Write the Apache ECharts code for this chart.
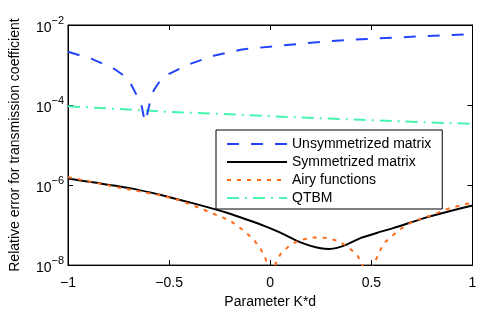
<!DOCTYPE html>
<html><head><meta charset="utf-8">
<script src="https://cdn.jsdelivr.net/npm/echarts@6/dist/echarts.min.js"></script>
<style>html,body{margin:0;padding:0;background:#fff}#c{width:485px;height:314px}</style>
</head><body><div id="c"></div>
<script>
var seriesNames = ['Unsymmetrized matrix','Symmetrized matrix','Airy functions','QTBM'];
var unsymX = [-1,-0.88,-0.77,-0.72,-0.685,-0.66,-0.64,-0.62,-0.61,-0.596,-0.576,-0.547,-0.5,-0.4,-0.28,-0.14,0.02,0.27,0.51,0.76,1.0];
var unsymY = [2.14e-3,1.41e-3,7.94e-4,5.25e-4,3.09e-4,1.74e-4,1.20e-4,3.8e-5,5.37e-5,1.12e-4,2.34e-4,3.89e-4,6.03e-4,1.05e-3,1.70e-3,2.45e-3,2.95e-3,3.89e-3,4.57e-3,5.25e-3,5.89e-3];
var symX = [-1,-0.85,-0.7,-0.54,-0.37,-0.21,-0.095,-0.03,0.05,0.135,0.2,0.25,0.29,0.33,0.38,0.448,0.53,0.612,0.777,0.89,1];
var symY = [1.45e-6,1.12e-6,8.51e-7,5.62e-7,3.39e-7,2.00e-7,1.26e-7,9.55e-8,6.46e-8,3.98e-8,3.02e-8,2.63e-8,2.54e-8,2.69e-8,3.31e-8,4.79e-8,6.46e-8,8.51e-8,1.58e-7,2.24e-7,3.09e-7];
var airyX = [-1,-0.75,-0.54,-0.45,-0.37,-0.23,-0.19,-0.13,-0.08,-0.047,-0.022,0.0,0.025,0.05,0.10,0.15,0.218,0.276,0.333,0.38,0.43,0.455,0.475,0.513,0.537,0.563,0.612,0.66,0.71,0.77,0.83,0.88,0.94,1];
var airyY = [1.58e-6,8.71e-7,5.50e-7,4.17e-7,2.95e-7,1.51e-7,1.20e-7,7.24e-8,4.17e-8,2.51e-8,1.41e-8,3e-9,1.05e-8,1.86e-8,3.24e-8,4.27e-8,4.90e-8,4.79e-8,4.07e-8,2.95e-8,1.78e-8,1.05e-8,3e-9,1.05e-8,2.04e-8,3.55e-8,5.89e-8,9.12e-8,1.26e-7,1.58e-7,2.04e-7,2.57e-7,3.09e-7,3.72e-7];
var qtbmX = [-1,-0.75,-0.5,-0.25,0,0.25,0.5,0.75,1];
var qtbmY = [9.33e-5,7.94e-5,6.76e-5,6.03e-5,5.25e-5,4.68e-5,4.17e-5,3.72e-5,3.39e-5];

function pairs(xs, ys){ return xs.map(function(x,i){ return [x, ys[i]]; }); }
var FONT = 'Liberation Sans, Arial, sans-serif';
var chart = echarts.init(document.getElementById('c'), null, {renderer:'canvas'});
var tickStyle = {inside:true, length:5, lineStyle:{color:'#000', width:1}};
var lineAx = {show:true, onZero:false, lineStyle:{color:'#000', width:1}};
chart.setOption({
  animation:false,
  backgroundColor:'#fff',
  grid:{left:66, top:25, right:12.5, bottom:42.5, show:true, borderColor:'#000', borderWidth:1},
  legend:{
    orient:'vertical', left:216, top:130,
    padding:[7,11,4,10], itemGap:4, itemWidth:60, itemHeight:14,
    borderColor:'#000', borderWidth:1, backgroundColor:'#fff',
    itemStyle:{opacity:0},
    textStyle:{fontFamily:FONT, fontSize:14, color:'#000'},
    data: seriesNames
  },
  xAxis:[{
    type:'value', min:-1, max:1, interval:0.5, position:'bottom',
    axisLine:lineAx, axisTick:tickStyle, splitLine:{show:false},
    axisLabel:{color:'#000', fontFamily:FONT, fontSize:14, margin:11,
      formatter:function(v){ return String(v).replace('-', '\u2212'); }},
    name:'Parameter K*d', nameLocation:'middle', nameGap:26,
    nameTextStyle:{fontFamily:FONT, fontSize:14, color:'#000'}
  },{
    type:'value', min:-1, max:1, interval:0.5, position:'top',
    axisLine:lineAx, axisTick:tickStyle, axisLabel:{show:false}, splitLine:{show:false}
  }],
  yAxis:[{
    type:'log', min:1e-8, max:1e-2, interval:2, logBase:10,
    axisLine:lineAx, axisTick:tickStyle, splitLine:{show:false}, minorTick:{show:false},
    axisLabel:{color:'#000', fontFamily:FONT, margin:4,
      formatter:function(v){ var e = Math.round(Math.log10(v)); return '{b|10}{s|\u2212' + (-e) + '}'; },
      rich:{ b:{fontFamily:FONT, fontSize:14, color:'#000', padding:[6,0,0,0]}, s:{fontFamily:FONT, fontSize:11, color:'#000', padding:[0,0,8,0]} }
    },
    name:'Relative error for transmission coefficient', nameLocation:'middle', nameGap:46,
    nameTextStyle:{fontFamily:FONT, fontSize:14, color:'#000'}
  },{
    type:'log', min:1e-8, max:1e-2, interval:2, logBase:10, position:'right',
    axisLine:lineAx, axisTick:tickStyle, axisLabel:{show:false}, splitLine:{show:false}
  }],
  series:[
    {name:seriesNames[0], type:'line', data:pairs(unsymX, unsymY), symbol:'none', clip:true,
     lineStyle:{color:'#2244fa', width:2, type:[12,12]}, itemStyle:{color:'#2244fa'}, z:3},
    {name:seriesNames[1], type:'line', data:pairs(symX, symY), symbol:'none', clip:true, smooth:0.15,
     lineStyle:{color:'#000', width:2, type:'solid'}, itemStyle:{color:'#000'}, z:2},
    {name:seriesNames[2], type:'line', data:pairs(airyX, airyY), symbol:'none', clip:true,
     lineStyle:{color:'#ff6a1a', width:2, type:[4,6]}, itemStyle:{color:'#ff6a1a'}, z:4},
    {name:seriesNames[3], type:'line', data:pairs(qtbmX, qtbmY), symbol:'none', clip:true,
     lineStyle:{color:'#45f5b0', width:2, type:[12,6,2,6]}, itemStyle:{color:'#45f5b0'}, z:1}
  ]
});
</script></body></html>
